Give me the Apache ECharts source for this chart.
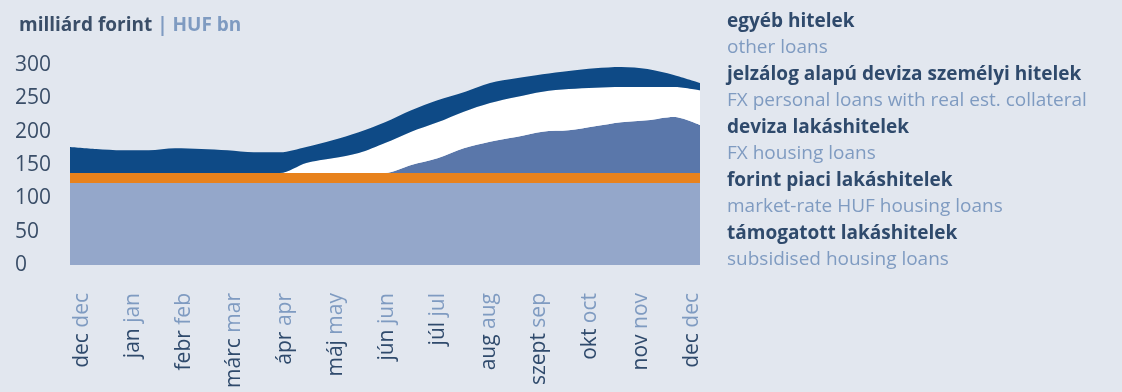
<!DOCTYPE html>
<html>
<head>
<meta charset="utf-8">
<script src="https://cdn.jsdelivr.net/npm/echarts@6/dist/echarts.min.js"></script>
<style>
html,body{margin:0;padding:0;background:#e2e7ef;}
#c{width:1122px;height:392px;}
</style>
</head>
<body>
<div id="c"></div>
<script>
// month tick labels (Hungarian / English)
var monthsHu = ['dec','jan','febr','márc','ápr','máj','jún','júl','aug','szept','okt','nov','dec'];
var monthsEn = ['dec','jan','feb','mar','apr','may','jun','jul','aug','sep','oct','nov','dec'];
// sample positions in months (0 = first dec, 12 = last dec), evenly spaced
var sampleMonths = ['-0.24','0.28','0.79','1.31','1.83','2.34','2.86','3.38','3.89','4.41','4.93','5.44','5.96','6.47','6.99','7.51','8.02','8.54','9.06','9.57','10.09','10.61','11.12','11.64','12.16'];
// series values, HUF bn
var subsidised = [123,123,123,123,123,123,123,123,123,123,123,123,123,123,123,123,123,123,123,123,123,123,123,123,123];
var marketHuf  = [15,15,15,15,15,15,15,15,15,15,15,15,15,15,15,15,15,15,15,15,15,15,15,15,15];
var fxHousing  = [0,0,0,0,0,0,0,0,0,0,0,0,0,12,22,37,47,54,62,64,70,76,79,84,72];
var fxPersonal = [0,0,0,0,0,0,0,0,0,15,22,30,45,50,54,55,58,60,60,62,58,53,50,45,52];
var otherLoans = [39,36,34,34,37,36,34,31,31,24,27,31,31,32,33,29,30,28,26,27,29,30,27,18,11];
// legend texts (top to bottom)
var legendHu = ['egyéb hitelek','jelzálog alapú deviza személyi hitelek','deviza lakáshitelek','forint piaci lakáshitelek','támogatott lakáshitelek'];
var legendEn = ['other loans','FX personal loans with real est. collateral','FX housing loans','market-rate HUF housing loans','subsidised housing loans'];
var yTicks = [0,50,100,150,200,250,300];

var FONT = '"Open Sans", Lato, sans-serif';
var DARK = '#2f4a6c';
var LIGHT = '#7f9bc1';

var seriesDefs = [
  {name: legendHu[4], data: subsidised, color: '#94a7ca'},
  {name: legendHu[3], data: marketHuf, color: '#e8821c'},
  {name: legendHu[2], data: fxHousing, color: '#5a77aa'},
  {name: legendHu[1], data: fxPersonal, color: '#ffffff'},
  {name: legendHu[0], data: otherLoans, color: '#0e4a86'}
];

var series = seriesDefs.map(function(s){
  return {
    name: s.name, type: 'line', stack: 'total', xAxisIndex: 0, yAxisIndex: 0,
    data: s.data, smooth: 0.3, showSymbol: false, symbol: 'none',
    lineStyle: {width: 0}, areaStyle: {color: s.color, opacity: 1},
    itemStyle: {color: s.color}, silent: true
  };
});

var graphics = [];
for (var k = 0; k < legendHu.length; k++) {
  graphics.push({type:'text', left: 727, top: 24 + 52.9*k - 12,
    style:{text: legendHu[k], font: 'bold 19px ' + FONT, fill: DARK}});
  graphics.push({type:'text', left: 727, top: 24 + 52.9*k + 26.45 - 12,
    style:{text: legendEn[k], font: '19px ' + FONT, fill: LIGHT}});
}

var chart = echarts.init(document.getElementById('c'), null, {renderer:'canvas'});
chart.setOption({
  backgroundColor: '#e2e7ef',
  animation: false,
  title: {
    left: 14, top: 11,
    text: '{a|milliárd forint }{b|| HUF bn}',
    textStyle: {rich: {
      a: {fontFamily: FONT, fontWeight: 'bold', fontSize: 19, color: '#3a4e68'},
      b: {fontFamily: FONT, fontSize: 19, color: LIGHT}
    }}
  },
  graphic: graphics,
  grid: [
    {left: 70, right: 422, top: 65, height: 200},
    {left: 82, width: 610, top: 65, height: 200}
  ],
  xAxis: [
    {type: 'category', gridIndex: 0, boundaryGap: false, data: sampleMonths, show: false},
    {type: 'category', gridIndex: 1, boundaryGap: false,
     data: monthsHu.map(function(m, i){ return String(i); }),
     axisLine: {show: false}, axisTick: {show: false}, splitLine: {show: false},
     axisLabel: {rotate: 90, margin: 28, interval: 0,
       formatter: function(v, i){ return '{h|' + monthsHu[i] + ' }{e|' + monthsEn[i] + '}'; },
       rich: {h: {fontFamily: FONT, fontSize: 21, color: DARK},
              e: {fontFamily: FONT, fontSize: 21, color: LIGHT}}}}
  ],
  yAxis: [
    {type: 'value', gridIndex: 0, min: yTicks[0], max: yTicks[yTicks.length-1], interval: 50,
     axisLine: {show: false}, axisTick: {show: false}, splitLine: {show: false},
     axisLabel: {align: 'left', margin: 55, fontFamily: FONT, fontSize: 21, color: '#3a4e68'}},
    {type: 'value', gridIndex: 1, show: false}
  ],
  series: series
});
</script>
</body>
</html>
